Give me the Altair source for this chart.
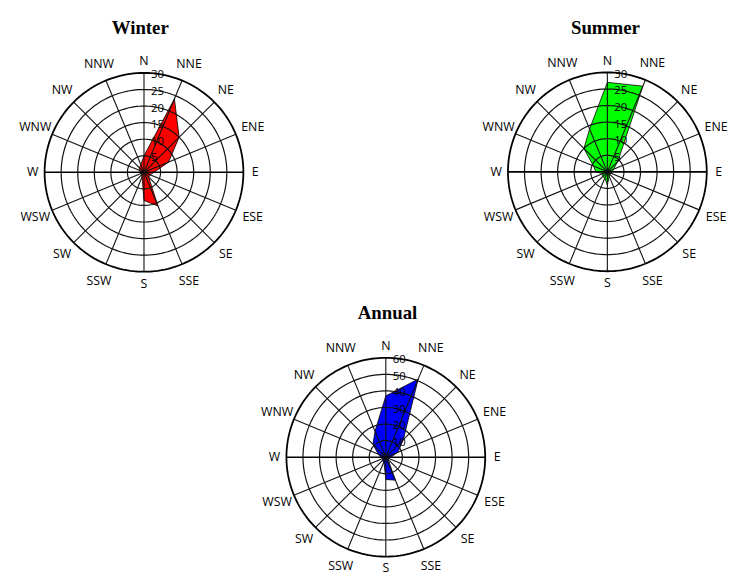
import math
import numpy as np
import pandas as pd
import altair as alt

# ---------------- data ----------------
directions = ["N", "NNE", "NE", "ENE", "E", "ESE", "SE", "SSE",
              "S", "SSW", "SW", "WSW", "W", "WNW", "NW", "NNW"]
winter = [5, 24, 15, 8, 3, 2, 2, 11, 8.5, 1.5, 1, 1, 1, 1.5, 2, 2.5]
summer = [27, 28, 4.5, 2, 1.5, 1, 1, 1.5, 4, 2, 2, 1.5, 3.5, 4.5, 10, 14]
annual = [37, 51, 15, 8, 3, 2, 2, 15, 13.5, 3, 3, 2, 3, 5, 11, 17]

titles = ["Winter", "Summer", "Annual"]
fills = ["#FF0000", "#00FF00", "#0000FF"]
ring_step = [5, 5, 10]
ring_max = [30, 30, 60]
series = [winter, summer, annual]

# ---------------- layout (chart pixels) ----------------
W, H = 730, 569
R = 100.5
centers = [(137.5, 163.0), (606.0, 162.5), (382.0, 451.0)]
title_pos = [(133.7, 23.0), (604.0, 23.0), (383.7, 311.5)]

ang = [k * 2 * math.pi / len(directions) for k in range(len(directions))]

poly_rows, ring_rows, spoke_rows, tick_rows, dir_rows, title_rows = [], [], [], [], [], []
for r_i, (name, vals) in enumerate(zip(titles, series)):
    cx, cy = centers[r_i]
    vmax = ring_max[r_i]
    for k, (d, v) in enumerate(zip(directions, vals)):
        rr = v / vmax * R
        poly_rows.append({"rose": name, "i": k,
                          "x": cx + rr * math.sin(ang[k]),
                          "y": cy - rr * math.cos(ang[k])})
        spoke_rows.append({"rose": name, "x": cx, "y": cy,
                           "x2": cx + R * math.sin(ang[k]),
                           "y2": cy - R * math.cos(ang[k]),
                           "strong": d in ("E", "W")})
        lr = {1: 112.5, 2: 117.0, 3: 119.0}[len(d)]
        dir_rows.append({"x": cx + lr * math.sin(ang[k]),
                         "y": cy - lr * math.cos(ang[k]), "t": d})
    steps = list(range(ring_step[r_i], vmax + 1, ring_step[r_i]))
    tt = np.linspace(0, 2 * math.pi, 181)[:-1]
    for s in steps:
        rr = s / vmax * R
        for j, t in enumerate(tt):
            ring_rows.append({"rid": f"{name}-{s}", "j": j,
                              "x": cx + rr * math.sin(t),
                              "y": cy - rr * math.cos(t),
                              "outer": s == vmax})
        tick_rows.append({"x": cx + 7, "y": cy - rr + 2.5, "t": str(s)})
    title_rows.append({"x": title_pos[r_i][0], "y": title_pos[r_i][1], "t": name})

poly = pd.DataFrame(poly_rows)
rings = pd.DataFrame(ring_rows)
spokes = pd.DataFrame(spoke_rows)
ticks = pd.DataFrame(tick_rows)
dirs = pd.DataFrame(dir_rows)
tdf = pd.DataFrame(title_rows)

xs = alt.Scale(domain=[0, W], nice=False, zero=False)
ys = alt.Scale(domain=[0, H], nice=False, zero=False, reverse=True)
X = lambda f="x": alt.X(f"{f}:Q", scale=xs, axis=None)
Y = lambda f="y": alt.Y(f"{f}:Q", scale=ys, axis=None)

layers = []
for name, col in zip(titles, fills):
    layers.append(
        alt.Chart(poly[poly.rose == name]).mark_line(
            interpolate="linear-closed", fill=col, stroke="black", strokeWidth=0.8
        ).encode(x=X(), y=Y(), order=alt.Order("i:Q"))
    )

inner = alt.Chart(rings[~rings.outer]).mark_line(
    interpolate="linear-closed", stroke="#111111", strokeWidth=1.2
).encode(x=X(), y=Y(), detail="rid:N", order=alt.Order("j:Q"))
outer = alt.Chart(rings[rings.outer]).mark_line(
    interpolate="linear-closed", stroke="#000000", strokeWidth=1.8
).encode(x=X(), y=Y(), detail="rid:N", order=alt.Order("j:Q"))

sp_thin = alt.Chart(spokes[~spokes.strong]).mark_rule(
    stroke="#111111", strokeWidth=1.1
).encode(x=X(), y=Y(), x2="x2:Q", y2="y2:Q")
sp_thick = alt.Chart(spokes[spokes.strong]).mark_rule(
    stroke="#000000", strokeWidth=1.6
).encode(x=X(), y=Y(), x2="x2:Q", y2="y2:Q")

tick_text = alt.Chart(ticks).mark_text(
    align="left", baseline="middle", font="Open Sans", fontSize=11.5, color="black"
).encode(x=X(), y=Y(), text="t:N")

dir_text = alt.Chart(dirs).mark_text(
    align="center", baseline="middle", font="Open Sans", fontSize=12.5, color="black"
).encode(x=X(), y=Y(), text="t:N")

title_text = alt.Chart(tdf).mark_text(
    align="center", baseline="alphabetic", font="Liberation Serif",
    fontSize=19, fontWeight="bold", color="black"
).encode(x=X(), y=Y(), text="t:N")

chart = alt.layer(
    *layers, inner, outer, sp_thin, sp_thick, tick_text, dir_text, title_text
).properties(
    width=W, height=H, padding=0, autosize=alt.AutoSizeParams(type="none")
).configure_view(stroke=None)

chart.save("out.html", embed_options={"renderer": "svg", "actions": False})
